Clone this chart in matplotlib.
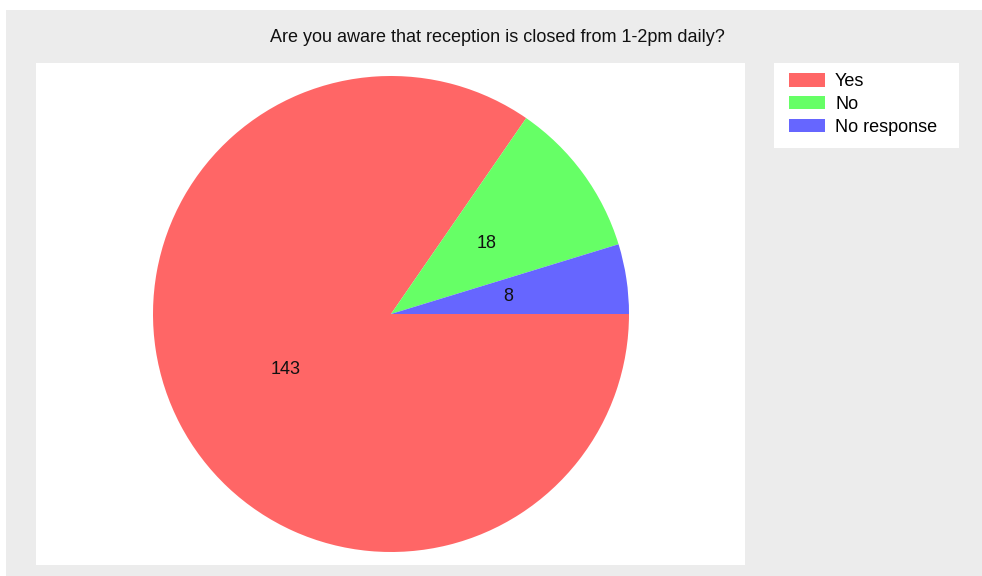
import matplotlib

matplotlib.use("Agg")
import matplotlib.pyplot as plt
from matplotlib.patches import Rectangle

title = "Are you aware that reception is closed from 1-2pm daily?"
categories = ["Yes", "No", "No response"]
counts = [143, 18, 8]
colors = ["#FF6666", "#66FF66", "#6666FF"]

W, H = 982, 576
FS = 13
plt.rcParams["font.family"] = ["Liberation Sans", "DejaVu Sans"]

fig = plt.figure(figsize=(W / 100, H / 100), dpi=100, facecolor="white")


def fig_box(x0, y0, x1, y1):
    # pixel box (top-left origin) -> figure fraction rect
    return [x0 / W, 1 - y1 / H, (x1 - x0) / W, (y1 - y0) / H]


# grey chart panel behind everything
fig.patches.append(Rectangle((6 / W, 0), 1 - 6 / W, 1 - 10 / H, transform=fig.transFigure,
                             facecolor="#ECECEC", edgecolor="none", zorder=-5))

fig.text(497 / W, 1 - 37 / H, title, ha="center", va="center", fontsize=FS, color="#111111")

x0, y0, x1, y1 = 36, 63, 745, 565
ax = fig.add_axes(fig_box(x0, y0, x1, y1))
wedges, texts = ax.pie(
    counts,
    colors=colors,
    labels=[str(c) for c in counts],
    labeldistance=0.5,
    startangle=0,
    counterclock=False,
    center=(391, H - 314),
    radius=238,
    textprops={"fontsize": FS, "color": "#111111"},
    wedgeprops={"linewidth": 0},
)
for t in texts:
    t.set_horizontalalignment("center")
    t.set_verticalalignment("center")
ax.set_aspect("auto")
ax.set_xlim(x0, x1)
ax.set_ylim(H - y1, H - y0)
ax.set_frame_on(True)
ax.set_facecolor("white")
for side in ax.spines.values():
    side.set_visible(False)
ax.set_xticks([])
ax.set_yticks([])

# legend panel
fig.patches.append(Rectangle((774 / W, 1 - 148 / H), (959 - 774) / W, (148 - 63) / H,
                             transform=fig.transFigure, facecolor="white",
                             edgecolor="none", zorder=1))
fig.legend(
    wedges, categories,
    loc="upper left",
    bbox_to_anchor=(789 / W, 1 - 73 / H),
    bbox_transform=fig.transFigure,
    frameon=False,
    fontsize=FS,
    borderpad=0,
    borderaxespad=0,
    handlelength=2.0,
    handleheight=0.78,
    handletextpad=0.55,
    labelspacing=0.32,
)

fig.savefig("out.png", dpi=100)
